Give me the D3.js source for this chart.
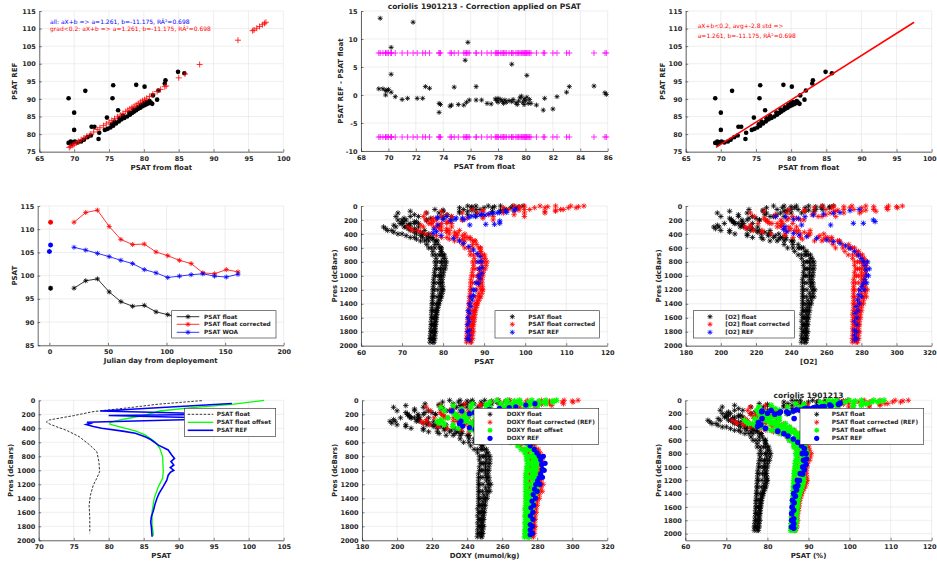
<!DOCTYPE html>
<html><head><meta charset="utf-8">
<script src="https://cdn.jsdelivr.net/npm/d3@7"></script>
<style>body{margin:0;background:#fff}svg{display:block}text{font-family:"DejaVu Sans",sans-serif}</style>
</head><body><svg id="c" width="937" height="564"></svg>
<script>
// ---------- Panel 1 / 3 : PSAT REF vs PSAT from float ----------
const p1BlackX = [69.2,71.6,70.0,70.0,75.5,75.6,78.9,80.1,76.3,74.7,73.5,73.6,72.5,72.9,84.9,85.8,83.1,83.0,81.9,81.2,82.1,81.3,69.2,69.5,69.8,69.6,70.1,70.5,71.0,71.4,71.9,72.4,74.4,74.8,75.2,75.6,76.0,76.4,76.8,77.2,77.6,78.0,78.3,78.6,78.9,79.2,79.5,79.8,80.1,80.4,80.7,81.0,77.0,77.9,78.5,79.1,79.6,80.0,80.3,80.8,75.8,76.5,75.4];
const p1BlackY = [90.2,92.3,86.1,81.2,90.2,93.9,94.0,93.5,86.8,84.7,78.6,80.4,82.1,82.1,97.7,97.3,95.3,94.4,89.8,88.6,92.4,91.0,77.5,77.9,77.7,77.2,77.9,77.6,77.9,78.4,79.1,79.6,81.2,81.5,81.9,82.4,83.0,83.6,84.2,84.6,85.0,85.5,86.0,86.4,86.8,87.2,87.5,87.9,88.2,88.5,88.8,89.0,85.2,86.1,87.0,87.6,88.3,88.8,89.1,89.4,83.6,84.5,82.8];
const p1RedX = [69.3,69.5,69.8,70.0,70.3,70.6,71.0,71.4,71.8,72.3,72.8,73.3,73.7,74.2,74.6,75.0,75.4,75.8,76.2,76.6,77.0,77.4,77.7,78.0,78.3,78.6,78.9,79.2,79.5,79.8,80.1,80.4,80.8,81.3,81.9,82.4,83.0,83.2,85.0,85.9,88.0,93.5,95.6,95.8,96.2,96.6,97.0,97.3,97.5];
const p1RedY = [76.2,76.5,76.8,77.1,77.5,77.9,78.4,78.9,79.4,80.0,80.6,81.3,81.8,82.4,82.9,83.4,83.9,84.4,84.9,85.4,85.9,86.4,86.8,87.2,87.6,87.9,88.3,88.7,89.1,89.5,89.8,90.2,90.7,91.4,92.1,92.7,93.5,93.7,96.0,97.1,99.8,106.7,109.4,109.6,110.1,110.6,111.1,111.5,111.8];
const fitX = [69.3, 97.5];
const fitY = [76.2, 111.8];
// ---------- Panel 2 : REF - float ----------
const diffX = [69.4,71.8,70.2,70.2,75.8,75.6,79.0,80.1,69.3,69.6,69.8,69.9,70.0,69.8,70.2,70.5,71.0,71.4,72.1,72.5,72.7,73.0,73.7,73.7,73.8,74.5,74.6,74.8,75.1,75.5,75.7,75.9,76.4,76.4,76.8,77.2,77.5,77.8,77.9,78.0,78.0,78.2,78.3,78.5,78.6,78.8,79.0,79.1,79.3,79.5,79.6,79.7,79.8,79.9,80.0,80.1,80.2,80.3,79.4,78.4,79.9,80.4,80.8,81.3,81.4,82.0,82.3,83.0,83.2,85.0,85.8,85.9];
const diffY = [13.7,13.0,8.5,3.7,9.4,6.2,5.5,3.5,1.1,1.1,0.8,0.8,1.0,0.0,0.5,-0.3,-0.8,-0.6,-0.6,-0.6,1.5,1.2,-1.5,-3.1,-1.7,-2.0,-1.8,1.4,-1.7,-1.8,-1.3,-0.9,1.5,-0.9,-0.9,-1.5,-1.6,-0.7,-1.0,-0.6,-1.3,-0.8,-1.1,-0.9,-1.3,-1.0,-1.2,-0.8,-1.4,-1.1,-0.5,-0.2,-1.3,-0.7,-1.0,-0.4,-1.5,-0.8,-1.7,-1.5,-1.7,-1.5,-1.8,-2.7,-0.6,-2.5,-0.3,0.5,1.5,1.6,0.4,0.1];
const thresholds = [7.5, -7.5];
// ---------- Panel 4 : time series ----------
const days = [21,31,41,51,61,71,81,91,101,111,121,131,141,151,161];
const psatFloat = [97.3,98.9,99.3,96.5,94.4,93.4,93.6,92.2,91.6,90.8,90.2,88.6,88.5,89.2,88.8];
const psatCorr = [111.5,113.6,114.1,110.6,107.8,106.7,106.8,105.1,104.3,103.3,102.6,100.6,100.4,101.3,100.8];
const psatWoa = [106.1,105.5,104.8,104.1,103.3,102.6,101.3,100.6,99.6,99.9,100.2,100.4,99.9,99.7,100.3];
const isoDays = [1];
const isoFloat = [97.3];
const isoCorr = [111.5];
const isoWoaDays = [1, 0];
const isoWoa = [106.6, 105.2];
// ---------- Profiles (panels 5,6,8,9) ----------
const presLevels = [0,25,50,75,100,150,200,250,300,350,400,450,500,600,700,800,900,1000,1100,1200,1300,1400,1500,1600,1700,1800,1900];
const presLevelsB = [10,60,125,175,225,275,325,375,425,475,550,650,750,850,950,1050,1150,1250,1350,1450,1550,1650,1750,1850,1950];
const psatFloatProfiles = [
 [99.5,98,95,92,88,82,76,70,65.5,66.5,69,72,74.5,76.5,77.5,78,78,77.8,77.6,77.5,77.4,77.3,77.2,77.2,77.1,77.0,76.8],
 [97,96.5,95.5,94,92,88,82,74,68.5,67.5,70,73,75.5,77.2,78.2,78.6,78.5,78.2,78,77.8,77.6,77.5,77.4,77.3,77.2,77.1,77.0],
 [94,92,89,84,79,74,71,70,70.5,72,73.5,75,76.5,78,79,79.5,79.3,79.2,79.4,79.6,79.2,78.8,78.4,78.2,78.0,77.8,77.6],
 [91,90,88,86,84,80,76,73,72,73.5,75,76.5,78,79.5,80.3,80.8,80.5,80,79.8,80,79.6,79,78.6,78.4,78.2,78.2,78.0],
 [88,87,85,80,76,72,69,69.5,71,73,75,77,78.5,79.5,80,80.3,80,79.6,79.5,79.8,79.4,78.8,78.3,78.0,77.9,77.8,77.6],
 [86,84,78,72,69,68.5,70,72,74,75.5,76.5,77.5,78.5,79.2,79.5,79.6,79.3,79.0,78.8,78.7,78.5,78.3,78.0,77.8,77.6,77.5,77.3]];
const psatFloatProfilesB = [
 [98.5,94,86,80,73,68,66,68,71,73.5,76,77.5,78.3,78.2,77.9,77.7,77.6,77.5,77.4,77.3,77.2,77.1,77.0,76.9,76.8],
 [92.5,87,81,77,73.5,71.5,71.5,73,74.5,76,78,79.5,80.5,80.6,80.1,79.8,79.9,79.8,79.3,78.8,78.5,78.3,78.1,78.0,77.8],
 [87,80,73,70.5,70.5,71.5,73,74.5,76,77.5,78.8,79.6,80,79.8,79.4,79.2,79.3,79.2,78.9,78.5,78.2,78.0,77.8,77.7,77.5]];
const psatCorrProfiles = [
 [114.3,112.4,108.6,104.8,99.8,92.2,84.7,77.1,71.4,72.7,75.8,79.6,82.8,85.3,86.6,87.2,87.2,86.9,86.7,86.6,86.4,86.3,86.2,86.2,86.0,85.9,85.7],
 [111.1,110.5,109.3,107.4,104.8,99.8,92.2,82.1,75.2,73.9,77.1,80.9,84.0,86.2,87.4,87.9,87.8,87.4,87.2,86.9,86.7,86.6,86.4,86.3,86.2,86.0,85.9],
 [107.4,104.8,101.1,94.7,88.4,82.1,78.4,77.1,77.7,79.6,81.5,83.4,85.3,87.2,88.4,89.1,88.8,88.7,88.9,89.2,88.7,88.2,87.7,87.4,87.2,86.9,86.7],
 [103.6,102.3,99.8,97.3,94.7,89.7,84.7,80.9,79.6,81.5,83.4,85.3,87.2,89.1,90.1,90.7,90.3,89.7,89.5,89.7,89.2,88.4,87.9,87.7,87.4,87.4,87.2],
 [99.8,98.5,96.0,89.7,84.7,79.6,75.8,76.5,78.4,80.9,83.4,85.9,87.8,89.1,89.7,90.1,89.7,89.2,89.1,89.5,88.9,88.2,87.6,87.2,87.1,86.9,86.7],
 [97.3,94.7,87.2,79.6,75.8,75.2,77.1,79.6,82.1,84.0,85.3,86.6,87.8,88.7,89.1,89.2,88.8,88.4,88.2,88.1,87.8,87.6,87.2,86.9,86.7,86.6,86.3]];
const psatCorrProfilesB = [
 [113.0,107.4,97.3,89.7,80.9,74.6,72.1,74.6,78.4,81.5,84.7,86.6,87.6,87.4,87.1,86.8,86.7,86.6,86.4,86.3,86.2,86.0,85.9,85.8,85.7],
 [105.5,98.5,91.0,85.9,81.5,79.0,79.0,80.9,82.8,84.7,87.2,89.1,90.3,90.5,89.8,89.5,89.6,89.5,88.8,88.2,87.8,87.6,87.3,87.2,86.9],
 [98.5,89.7,80.9,77.7,77.7,79.0,80.9,82.8,84.7,86.6,88.2,89.2,89.7,89.5,88.9,88.7,88.8,88.7,88.3,87.8,87.4,87.2,86.9,86.8,86.6]];
const psatOffsetProfiles = [
 [108.4,106.9,103.9,100.9,96.9,90.9,84.9,78.9,74.4,75.4,77.9,80.9,83.4,85.4,86.4,86.9,86.9,86.7,86.5,86.4,86.3,86.2,86.1,86.1,86.0,85.9,85.7],
 [105.9,105.4,104.4,102.9,100.9,96.9,90.9,82.9,77.4,76.4,78.9,81.9,84.4,86.1,87.1,87.5,87.4,87.1,86.9,86.7,86.5,86.4,86.3,86.2,86.1,86.0,85.9],
 [102.9,100.9,97.9,92.9,87.9,82.9,79.9,78.9,79.4,80.9,82.4,83.9,85.4,86.9,87.9,88.4,88.2,88.1,88.3,88.5,88.1,87.7,87.3,87.1,86.9,86.7,86.5],
 [99.9,98.9,96.9,94.9,92.9,88.9,84.9,81.9,80.9,82.4,83.9,85.4,86.9,88.4,89.2,89.7,89.4,88.9,88.7,88.9,88.5,87.9,87.5,87.3,87.1,87.1,86.9],
 [96.9,95.9,93.9,88.9,84.9,80.9,77.9,78.4,79.9,81.9,83.9,85.9,87.4,88.4,88.9,89.2,88.9,88.5,88.4,88.7,88.3,87.7,87.2,86.9,86.8,86.7,86.5],
 [94.9,92.9,86.9,80.9,77.9,77.4,78.9,80.9,82.9,84.4,85.4,86.4,87.4,88.1,88.4,88.5,88.2,87.9,87.7,87.6,87.4,87.2,86.9,86.7,86.5,86.4,86.2]];
const psatOffsetProfilesB = [
 [107.4,102.9,94.9,88.9,81.9,76.9,74.9,76.9,79.9,82.4,84.9,86.4,87.2,87.1,86.8,86.6,86.5,86.4,86.3,86.2,86.1,86.0,85.9,85.8,85.7],
 [101.4,95.9,89.9,85.9,82.4,80.4,80.4,81.9,83.4,84.9,86.9,88.4,89.4,89.5,89.0,88.7,88.8,88.7,88.2,87.7,87.4,87.2,87.0,86.9,86.7],
 [95.9,88.9,81.9,79.4,79.4,80.4,81.9,83.4,84.9,86.4,87.7,88.5,88.9,88.7,88.3,88.1,88.2,88.1,87.8,87.4,87.1,86.9,86.7,86.6,86.4]];
const refPsatX = [97.7,97.3,95.5,95.2,93.8,93.2,92.1,91.2,90.2,89.4,89.0,87.9,87.0,86.3,84.7,85.1,83.2,82.9,81.8,80.9,80.0,78.7,78.6,93.8,93.8,92.5,90.4,86.5,78.7,77.8,78.4,77.6,79.5,82.5,84.0,85.0,86.3,87.4,88.3,89.0,89.4,89.5,89.4,89.0,88.6,87.8,87.4,87.1,86.8,86.5,86.4,86.4,86.4,86.4,88.5,88.8,88.6,88.0,87.3,86.8,86.4,86.1,86.0,85.9,85.9,85.9];
const refPsatP = [43,60,91,70,95,96,105,111,129,120,129,145,143,160,172,195,171,191,210,153,195,162,171,215,248,262,262,272,272,334,368,390,420,463,500,535,580,630,680,725,797,880,964,1040,1107,1203,1280,1346,1440,1537,1650,1776,1850,1919,800,900,1000,1100,1200,1300,1400,1500,1600,1700,1800,1900];
const o2FloatProfiles = [
 [264,262,258,253,246,236,222,208,196,200,208,218,228,238,244,247,247.5,247,246.5,246.5,246.5,246.5,246.5,246.5,246.5,246.3,246],
 [258,257,254,248,240,230,215,202,199,205,215,223,232,241,246,248.5,248.5,248,247.5,247,247,247,247,247,247,247,246.8],
 [250,248,244,236,226,218,212,210,211,217,223,230,236,244,248.5,250.5,250.5,250.5,251,252,251,250,249,249,248.5,248.2,248],
 [243,242,240,237,234,228,222,218,217,222,228,234,240,247,251,253,253,252.5,252.5,253.5,253,251.5,250.5,250,249.5,249.5,249],
 [236,235,232,224,215,210,206,208,213,220,227,235,241,246,250,252,252,251.5,251.5,252.5,252,250.5,249.5,249,249,248.8,248.5],
 [230,226,216,205,198,200,206,213,221,228,233,237,241,245,248,249.5,249.5,249,249,249,248.8,248.5,248,247.8,247.5,247.5,247.2]];
const o2FloatProfilesB = [
 [262,250,232,220,207,198,197,205,215,224,236,242,246,247,247,246.5,246.5,246.5,246.5,246.5,246,246,246,246,245.8],
 [254,238,225,216,212,212,215,221,227,233,241,248,252,253,252.5,252,252.5,252.5,251.5,250.5,250,249.5,249,249,248.5],
 [240,224,210,205,207,212,218,225,231,237,244,249,251,251,250.5,250.5,251,250.5,249.5,249,248.5,248.5,248,248,247.8]];
const o2CorrProfiles = [
 [303.3,300.5,295.0,288.3,279.0,265.4,247.3,229.1,213.7,218.6,228.6,241.1,253.3,265.3,272.5,276.1,276.7,276.1,275.3,275.3,275.3,275.3,275.3,275.3,275.3,275.1,274.8],
 [295.4,294.3,287.0,280.2,270.0,257.6,237.6,221.2,216.9,223.5,236.5,245.3,257.5,269.4,275.0,277.8,277.8,277.3,276.7,276.1,276.1,276.1,276.1,276.1,276.1,276.1,275.9],
 [282.5,280.2,275.7,264.3,253.1,240.9,234.3,232.1,232.1,238.7,245.3,255.3,262.0,272.8,277.8,280.1,280.1,280.1,280.6,281.7,280.6,279.5,278.4,278.4,277.8,277.5,277.3],
 [274.6,273.5,270.0,265.4,262.1,255.4,245.3,240.9,238.7,244.2,250.8,259.7,266.4,276.1,280.6,282.9,282.9,282.3,282.3,283.4,282.9,281.2,280.1,279.5,278.9,278.9,278.4],
 [264.3,263.2,259.8,247.5,237.6,231.0,225.6,227.8,234.3,242.0,249.7,260.9,267.5,275.0,279.5,281.7,281.7,281.2,281.2,282.3,281.7,280.1,278.9,278.4,278.4,278.2,277.8],
 [257.6,253.1,238.7,224.5,216.8,219.0,225.6,235.4,243.1,250.8,258.6,263.1,267.5,273.9,277.3,278.9,278.9,278.4,278.4,278.4,278.2,277.8,277.3,277.0,276.7,276.7,276.4]];
const o2CorrProfilesB = [
 [300.0,282.5,259.8,243.1,226.7,216.8,214.7,223.5,236.5,246.4,263.8,270.6,275.0,276.1,276.1,275.6,275.6,275.6,275.6,275.6,275.0,275.0,275.0,275.0,274.8],
 [287.0,266.6,252.0,238.7,234.3,234.3,236.5,243.1,249.7,258.6,269.4,277.3,281.7,282.9,282.3,281.7,282.3,282.3,281.2,280.1,279.5,278.9,278.4,278.4,277.8],
 [270.0,247.5,231.0,224.5,226.7,234.3,239.8,247.5,256.4,263.1,272.8,278.4,280.6,280.6,280.1,280.1,280.6,280.1,278.9,278.4,277.8,277.8,277.3,277.3,277.0]];
const o2OffsetProfiles = [
 [291,289,285,280,273,263,249,235,223,227,235,245,255,265,271,274,274.5,274,273.5,273.5,273.5,273.5,273.5,273.5,273.5,273.3,273],
 [285,284,281,275,267,257,242,229,226,232,242,250,259,268,273,275.5,275.5,275,274.5,274,274,274,274,274,274,274,273.8],
 [277,275,271,263,253,245,239,237,238,244,250,257,263,271,275.5,277.5,277.5,277.5,278,279,278,277,276,276,275.5,275.2,275],
 [270,269,267,264,261,255,249,245,244,249,255,261,267,274,278,280,280,279.5,279.5,280.5,280,278.5,277.5,277,276.5,276.5,276],
 [263,262,259,251,242,237,233,235,240,247,254,262,268,273,277,279,279,278.5,278.5,279.5,279,277.5,276.5,276,276,275.8,275.5],
 [257,253,243,232,225,227,233,240,248,255,260,264,268,272,275,276.5,276.5,276,276,276,275.8,275.5,275,274.8,274.5,274.5,274.2]];
const o2OffsetProfilesB = [
 [289,277,259,247,234,225,224,232,242,251,263,269,273,274,274,273.5,273.5,273.5,273.5,273.5,273,273,273,273,272.8],
 [281,265,252,243,239,239,242,248,254,260,268,275,279,280,279.5,279,279.5,279.5,278.5,277.5,277,276.5,276,276,275.5],
 [267,251,237,232,234,239,245,252,258,264,271,276,278,278,277.5,277.5,278,277.5,276.5,276,275.5,275.5,275,275,274.8]];
const refO2X = [278.7,273.5,267.8,264.0,258.4,252.7,247.9,244.1,241.3,236.9,231.2,286.8,287.8,281.1,275.4,262.5,246.0,236.5,235.6,237.5,241.3,244.5,248.9,254.5,260.3,264.0,267.8,271.0,273.5,276.0,278.3,279.8,281.1,282.0,282.6,283.0,282.0,281.1,280.2,279.2,278.5,277.7,277.0,276.4,276.1,276.0,276.0,276.0,283.5,284.5,284.0,283.0,281.5,280.0,279.0,278.0,277.5,277.5,277.3,277.3];
const refO2P = [48,67,95,105,115,129,153,177,191,153,153,200,224,248,248,272,272,296,334,368,391,415,439,463,487,510,535,570,606,650,702,750,797,850,916,988,1050,1107,1150,1203,1270,1346,1440,1537,1650,1776,1850,1919,800,900,1000,1100,1200,1300,1400,1500,1600,1700,1800,1900];
// ---------- Panel 7 : single profile lines ----------
const floatLineP = [5,57,105,150,165,219,281,310,340,376,430,520,640,733,876,1019,1114,1210,1352,1495,1686,1900];
const floatLineV = [93.3,86.9,83.0,78.8,77.6,75.0,71.5,71.1,71.6,72.5,74.0,75.8,77.3,78.3,78.6,78.7,78.3,77.8,77.4,77.2,77.3,77.3];
const offsetLineP = [0,57,105,153,210,267,314,343,362,438,495,591,686,805,1019,1114,1233,1400,1590,1781,1933];
const offsetLineV = [102.2,97.6,91.9,87.3,85.3,82.3,80.2,80.2,80.9,83.8,85.2,86.6,87.3,87.7,87.8,87.7,87.1,86.5,86.2,86.2,86.4];
const refLineP = [45,152,200,217,260,314,330,345,375,400,440,470,520,560,640,710,780,830,876,924,960,1000,1030,1070,1140,1230,1330,1400,1490,1570,1660,1740,1810,1950];
const refLineV = [97.6,78.8,97.5,80.0,97.5,76.9,77.4,76.8,77.8,79.0,82.0,83.8,85.2,86.0,87.1,88.5,89.0,89.4,88.9,89.3,88.8,89.3,88.8,88.5,88.3,87.8,87.2,86.9,86.6,86.4,86.1,86.0,86.1,86.2];
// ---------- Ticks ----------
const ticksPsatFit = [65,70,75,80,85,90,95,100];
const ticksPsatRef = [75,80,85,90,95,100,105,110,115];
const ticksDiffX = [68,70,72,74,76,78,80,82,84,86];
const ticksDiffY = [-10,-5,0,5,10,15];
const ticksDays = [0,50,100,150,200];
const ticksPsatTime = [85,90,95,100,105,110,115];
const ticksPsatProf = [60,70,80,90,100,110,120];
const ticksO2 = [180,200,220,240,260,280,300,320];
const ticksPres = [0,200,400,600,800,1000,1200,1400,1600,1800,2000];
const ticksPsatLine = [70,75,80,85,90,95,100,105];

// ================= drawing =================
const svg = d3.select('#c');
const W = 937;
const TXT = '#262626', GRID = '#e3e3e3';
const BLACK='#000000', RED='#ff0000', BLUE='#0000ff', GREEN='#00ff00', MAG='#ff00ff';

function txt(g, x, y, s, o = {}) {
  const t = g.append('text').attr('x', x).attr('y', y).text(s)
    .attr('fill', o.fill || TXT).attr('font-size', o.size || 7)
    .attr('font-weight', o.weight || 'bold')
    .attr('text-anchor', o.anchor || 'middle').attr('dy', o.dy == null ? '0.35em' : o.dy);
  if (o.rot) t.attr('transform', `rotate(-90,${x},${y})`);
  return t;
}
function starPath(s){const h=s/2,d=h*0.72;return `M${-h},0H${h}M0,${-h}V${h}M${-d},${-d}L${d},${d}M${-d},${d}L${d},${-d}`;}
function plusPath(s){const h=s/2;return `M${-h},0H${h}M0,${-h}V${h}`;}

function panel(c) {
  const x = d3.scaleLinear().domain(c.xd).range([c.l, c.r]);
  const y = d3.scaleLinear().domain(c.yd).range(c.rev ? [c.t, c.b] : [c.b, c.t]);
  const g = svg.append('g');
  g.append('g').selectAll('line').data(c.xt).join('line')
    .attr('x1', d => x(d)).attr('x2', d => x(d)).attr('y1', c.t).attr('y2', c.b)
    .attr('stroke', GRID).attr('stroke-width', 0.6);
  g.append('g').selectAll('line').data(c.yt).join('line')
    .attr('y1', d => y(d)).attr('y2', d => y(d)).attr('x1', c.l).attr('x2', c.r)
    .attr('stroke', GRID).attr('stroke-width', 0.6);
  const marks = g.append('g');
  const ax = g.append('g').attr('transform', `translate(0,${c.b})`)
    .call(d3.axisBottom(x).tickValues(c.xt).tickSize(-2.5).tickSizeOuter(0).tickPadding(4.5).tickFormat(d => String(d)));
  const ay = g.append('g').attr('transform', `translate(${c.l},0)`)
    .call(d3.axisLeft(y).tickValues(c.yt).tickSize(-2.5).tickSizeOuter(0).tickPadding(3.5).tickFormat(d => String(d)));
  [ax, ay].forEach(a => {
    a.attr('font-size', 6.5).attr('font-family', '"DejaVu Sans", sans-serif').attr('font-weight', 'bold');
    a.select('.domain').attr('stroke', TXT).attr('stroke-width', 0.7);
    a.selectAll('.tick line').attr('stroke', TXT).attr('stroke-width', 0.6);
    a.selectAll('.tick text').attr('fill', TXT);
  });
  // keep the right-most tick label inside the page
  ax.selectAll('.tick').each(function (d) {
    const tx = x(d);
    if (tx + 7 > W) d3.select(this).select('text').attr('text-anchor', 'end').attr('x', W - 1 - tx);
  });
  txt(g, (c.l + c.r) / 2, c.b + 15.5, c.xl);
  txt(g, c.l - c.yo, (c.t + c.b) / 2, c.yl, { rot: true });
  if (c.title) txt(g, (c.l + c.r) / 2, c.t - 4.8, c.title, { size: 7.5 });
  return { x, y, marks, g };
}
function pts(p, xs, ys, path, color, sw) {
  p.marks.append('g').selectAll('path').data(xs.map((v, i) => [v, ys[i]])).join('path')
    .attr('d', path).attr('transform', d => `translate(${p.x(d[0])},${p.y(d[1])})`)
    .attr('stroke', color).attr('stroke-width', sw).attr('fill', 'none');
}
function dots(p, xs, ys, r, color) {
  p.marks.append('g').selectAll('circle').data(xs.map((v, i) => [v, ys[i]])).join('circle')
    .attr('cx', d => p.x(d[0])).attr('cy', d => p.y(d[1])).attr('r', r).attr('fill', color);
}
function profiles(p, profs, levels, color, size, sw) {
  profs.forEach(vals => pts(p, vals, levels, starPath(size), color, sw));
}
function profileSet(p, a, b, color, size, sw) {
  profiles(p, a, presLevels, color, size, sw);
  profiles(p, b, presLevelsB, color, size, sw);
}
function legendBox(g, x0, y0, x1, y1) {
  g.append('rect').attr('x', x0).attr('y', y0).attr('width', x1 - x0).attr('height', y1 - y0)
    .attr('fill', '#fff').attr('stroke', TXT).attr('stroke-width', 0.6);
}
function legendMarkers(g, box, mx, tx, rows, items) {
  legendBox(g, ...box);
  items.forEach((it, i) => {
    if (it.circle) g.append('circle').attr('cx', mx).attr('cy', rows[i]).attr('r', 2.6).attr('fill', it.c);
    else g.append('path').attr('d', starPath(5)).attr('transform', `translate(${mx},${rows[i]})`).attr('stroke', it.c).attr('stroke-width', it.w || 0.8).attr('fill', 'none');
    txt(g, tx, rows[i], it.t, { size: 5.8, anchor: 'start' });
  });
}

// ---- Panel 1 ----
const P1 = panel({ l: 39.3, r: 283.3, t: 11, b: 151.7, xd: [65, 100], yd: [75, 115], xt: ticksPsatFit, yt: ticksPsatRef, xl: 'PSAT from float', yl: 'PSAT REF', yo: 24.3 });
dots(P1, p1BlackX, p1BlackY, 2.3, BLACK);
pts(P1, p1RedX, p1RedY, plusPath(6), RED, 0.8);
txt(P1.g, 50, 22.3, 'all: aX+b => a=1.261, b=-11.175, RÂ²=0.698', { fill: BLUE, weight: 'normal', size: 6, anchor: 'start' });
txt(P1.g, 50, 29.3, 'grad<0.2: aX+b => a=1.261, b=-11.175, RÂ²=0.698', { fill: RED, weight: 'normal', size: 6, anchor: 'start' });

// ---- Panel 2 ----
const P2 = panel({ l: 361, r: 607.7, t: 11, b: 151, xd: [68, 86], yd: [-10, 15], xt: ticksDiffX, yt: ticksDiffY, xl: 'PSAT from float', yl: 'PSAT REF - PSAT float', yo: 20, title: 'coriolis 1901213 - Correction applied on PSAT' });
thresholds.forEach(th => pts(P2, diffX, diffX.map(() => th), plusPath(6), MAG, 0.8));
pts(P2, diffX, diffY, starPath(5), BLACK, 0.8);

// ---- Panel 3 ----
const P3 = panel({ l: 685.7, r: 931.7, t: 11, b: 151.7, xd: [65, 100], yd: [75, 115], xt: ticksPsatFit, yt: ticksPsatRef, xl: 'PSAT from float', yl: 'PSAT REF', yo: 23 });
dots(P3, p1BlackX, p1BlackY, 2.3, BLACK);
P3.marks.append('path').datum(fitX.map((v, i) => [v, fitY[i]]))
  .attr('d', d3.line().x(d => P3.x(d[0])).y(d => P3.y(d[1]))).attr('stroke', RED).attr('stroke-width', 1.5).attr('fill', 'none');
txt(P3.g, 697.7, 26, 'aX+b<0.2, avg+-2.8 std =>', { fill: RED, weight: 'normal', size: 6, anchor: 'start' });
txt(P3.g, 697.7, 35.7, 'a=1.261, b=-11.175, RÂ²=0.698', { fill: RED, weight: 'normal', size: 6, anchor: 'start' });

// ---- Panel 4 ----
const P4 = panel({ l: 37.7, r: 283.7, t: 206, b: 345.3, xd: [-10, 200], yd: [85, 115], xt: ticksDays, yt: ticksPsatTime, xl: 'Julian day from deployement', yl: 'PSAT', yo: 22.7 });
[[psatFloat, BLACK], [psatCorr, RED], [psatWoa, BLUE]].forEach(([vals, col]) => {
  P4.marks.append('path').datum(days.map((d, i) => [d, vals[i]]))
    .attr('d', d3.line().x(d => P4.x(d[0])).y(d => P4.y(d[1]))).attr('stroke', col).attr('stroke-width', 0.8).attr('fill', 'none');
  pts(P4, days, vals, starPath(5), col, 0.8);
});
pts(P4, isoDays, isoFloat, starPath(5), BLACK, 1.3);
pts(P4, isoDays, isoCorr, starPath(5), RED, 1.3);
pts(P4, isoWoaDays, isoWoa, starPath(5), BLUE, 1.3);
(() => {
  const g = P4.g; legendBox(g, 171.7, 310.7, 276, 338);
  const rows = [316.7, 324.3, 332.3];
  [['PSAT float', BLACK], ['PSAT float corrected', RED], ['PSAT WOA', BLUE]].forEach(([t, c], i) => {
    g.append('line').attr('x1', 176.7).attr('x2', 199.3).attr('y1', rows[i]).attr('y2', rows[i]).attr('stroke', c).attr('stroke-width', 0.8);
    g.append('path').attr('d', starPath(5)).attr('transform', `translate(188,${rows[i]})`).attr('stroke', c).attr('stroke-width', 0.8).attr('fill', 'none');
    txt(g, 204, rows[i], t, { size: 5.8, anchor: 'start' });
  });
})();

// ---- Panel 5 ----
const P5 = panel({ l: 361, r: 607.3, t: 206, b: 345.7, xd: [60, 120], yd: [0, 2000], rev: true, xt: ticksPsatProf, yt: ticksPres, xl: 'PSAT', yl: 'Pres (dcBars)', yo: 26 });
profileSet(P5, psatFloatProfiles, psatFloatProfilesB, BLACK, 5.5, 0.8);
profileSet(P5, psatCorrProfiles, psatCorrProfilesB, RED, 5.5, 0.8);
pts(P5, refPsatX, refPsatP, starPath(5.5), BLUE, 0.9);
legendMarkers(P5.g, [495, 310.7, 599.3, 338], 512.3, 528.3, [316.7, 324.3, 332.3],
  [{ t: 'PSAT float', c: BLACK }, { t: 'PSAT float corrected', c: RED }, { t: 'PSAT REF', c: BLUE }]);

// ---- Panel 6 ----
const P6 = panel({ l: 685.7, r: 931.7, t: 206, b: 345.7, xd: [180, 320], yd: [0, 2000], rev: true, xt: ticksO2, yt: ticksPres, xl: '[O2]', yl: 'Pres (dcBars)', yo: 27.4 });
profileSet(P6, o2FloatProfiles, o2FloatProfilesB, BLACK, 5.5, 0.8);
profileSet(P6, o2CorrProfiles, o2CorrProfilesB, RED, 5.5, 0.8);
pts(P6, refO2X, refO2P, starPath(5.5), BLUE, 0.9);
legendMarkers(P6.g, [693.3, 310.7, 794.3, 338], 710, 725.3, [316.7, 324.3, 332.3],
  [{ t: '[O2] float', c: BLACK }, { t: '[O2] float corrected', c: RED }, { t: '[O2] REF', c: BLUE }]);

// ---- Panel 7 ----
const P7 = panel({ l: 38.7, r: 283.7, t: 400.3, b: 540.3, xd: [70, 105], yd: [0, 2000], rev: true, xt: ticksPsatLine, yt: ticksPres, xl: 'PSAT', yl: 'Pres (dcBars)', yo: 27.7 });
const lineP7 = d3.line().x(d => P7.x(d[0])).y(d => P7.y(d[1]));
P7.marks.append('path').datum(floatLineV.map((v, i) => [v, floatLineP[i]])).attr('d', lineP7)
  .attr('stroke', BLACK).attr('stroke-width', 0.8).attr('stroke-dasharray', '2.5,1.5').attr('fill', 'none');
P7.marks.append('path').datum(offsetLineV.map((v, i) => [v, offsetLineP[i]])).attr('d', lineP7)
  .attr('stroke', GREEN).attr('stroke-width', 1.3).attr('fill', 'none');
P7.marks.append('path').datum(refLineV.map((v, i) => [v, refLineP[i]])).attr('d', lineP7)
  .attr('stroke', BLUE).attr('stroke-width', 1.6).attr('fill', 'none');
(() => {
  const g = P7.g; legendBox(g, 184.3, 408.3, 275.7, 436.7);
  const rows = [414.3, 422.3, 430.3];
  [['PSAT float', BLACK, 0.8, '2.5,1.5'], ['PSAT float offset', GREEN, 1.3, null], ['PSAT REF', BLUE, 1.6, null]].forEach(([t, c, w, da], i) => {
    const l = g.append('line').attr('x1', 187.7).attr('x2', 213.3).attr('y1', rows[i]).attr('y2', rows[i]).attr('stroke', c).attr('stroke-width', w);
    if (da) l.attr('stroke-dasharray', da);
    txt(g, 216.7, rows[i], t, { size: 5.8, anchor: 'start' });
  });
})();

// ---- Panel 8 ----
const P8 = panel({ l: 362, r: 607.3, t: 400.3, b: 540.3, xd: [180, 320], yd: [0, 2000], rev: true, xt: ticksO2, yt: ticksPres, xl: 'DOXY (mumol/kg)', yl: 'Pres (dcBars)', yo: 27.7 });
profileSet(P8, o2FloatProfiles, o2FloatProfilesB, BLACK, 5.5, 0.8);
profileSet(P8, o2CorrProfiles, o2CorrProfilesB, RED, 5.5, 0.8);
profileSet(P8, o2OffsetProfiles, o2OffsetProfilesB, GREEN, 6, 1.2);
dots(P8, refO2X, refO2P, 2.6, BLUE);
legendMarkers(P8.g, [474, 408.3, 598.7, 444.3], 490, 506.7, [414.3, 422.3, 430.3, 438.3],
  [{ t: 'DOXY float', c: BLACK }, { t: 'DOXY float corrected (REF)', c: RED }, { t: 'DOXY float offset', c: GREEN, w: 1.2 }, { t: 'DOXY REF', c: BLUE, circle: true }]);

// ---- Panel 9 ----
const P9 = panel({ l: 685.3, r: 931.7, t: 400.3, b: 540.3, xd: [60, 120], yd: [0, 2100], rev: true, xt: ticksPsatProf, yt: ticksPres, xl: 'PSAT (%)', yl: 'Pres (dcBars)', yo: 27, title: 'coriolis 1901213' });
profileSet(P9, psatFloatProfiles, psatFloatProfilesB, BLACK, 5.5, 0.8);
profileSet(P9, psatCorrProfiles, psatCorrProfilesB, RED, 5.5, 0.8);
profileSet(P9, psatOffsetProfiles, psatOffsetProfilesB, GREEN, 6, 1.2);
dots(P9, refPsatX, refPsatP, 2.8, BLUE);
legendMarkers(P9.g, [800, 408.3, 923.7, 444.3], 816.7, 831.7, [414.3, 422.3, 430.3, 438.3],
  [{ t: 'PSAT float', c: BLACK }, { t: 'PSAT float corrected (REF)', c: RED }, { t: 'PSAT float offset', c: GREEN, w: 1.2 }, { t: 'PSAT REF', c: BLUE, circle: true }]);
</script></body></html>
